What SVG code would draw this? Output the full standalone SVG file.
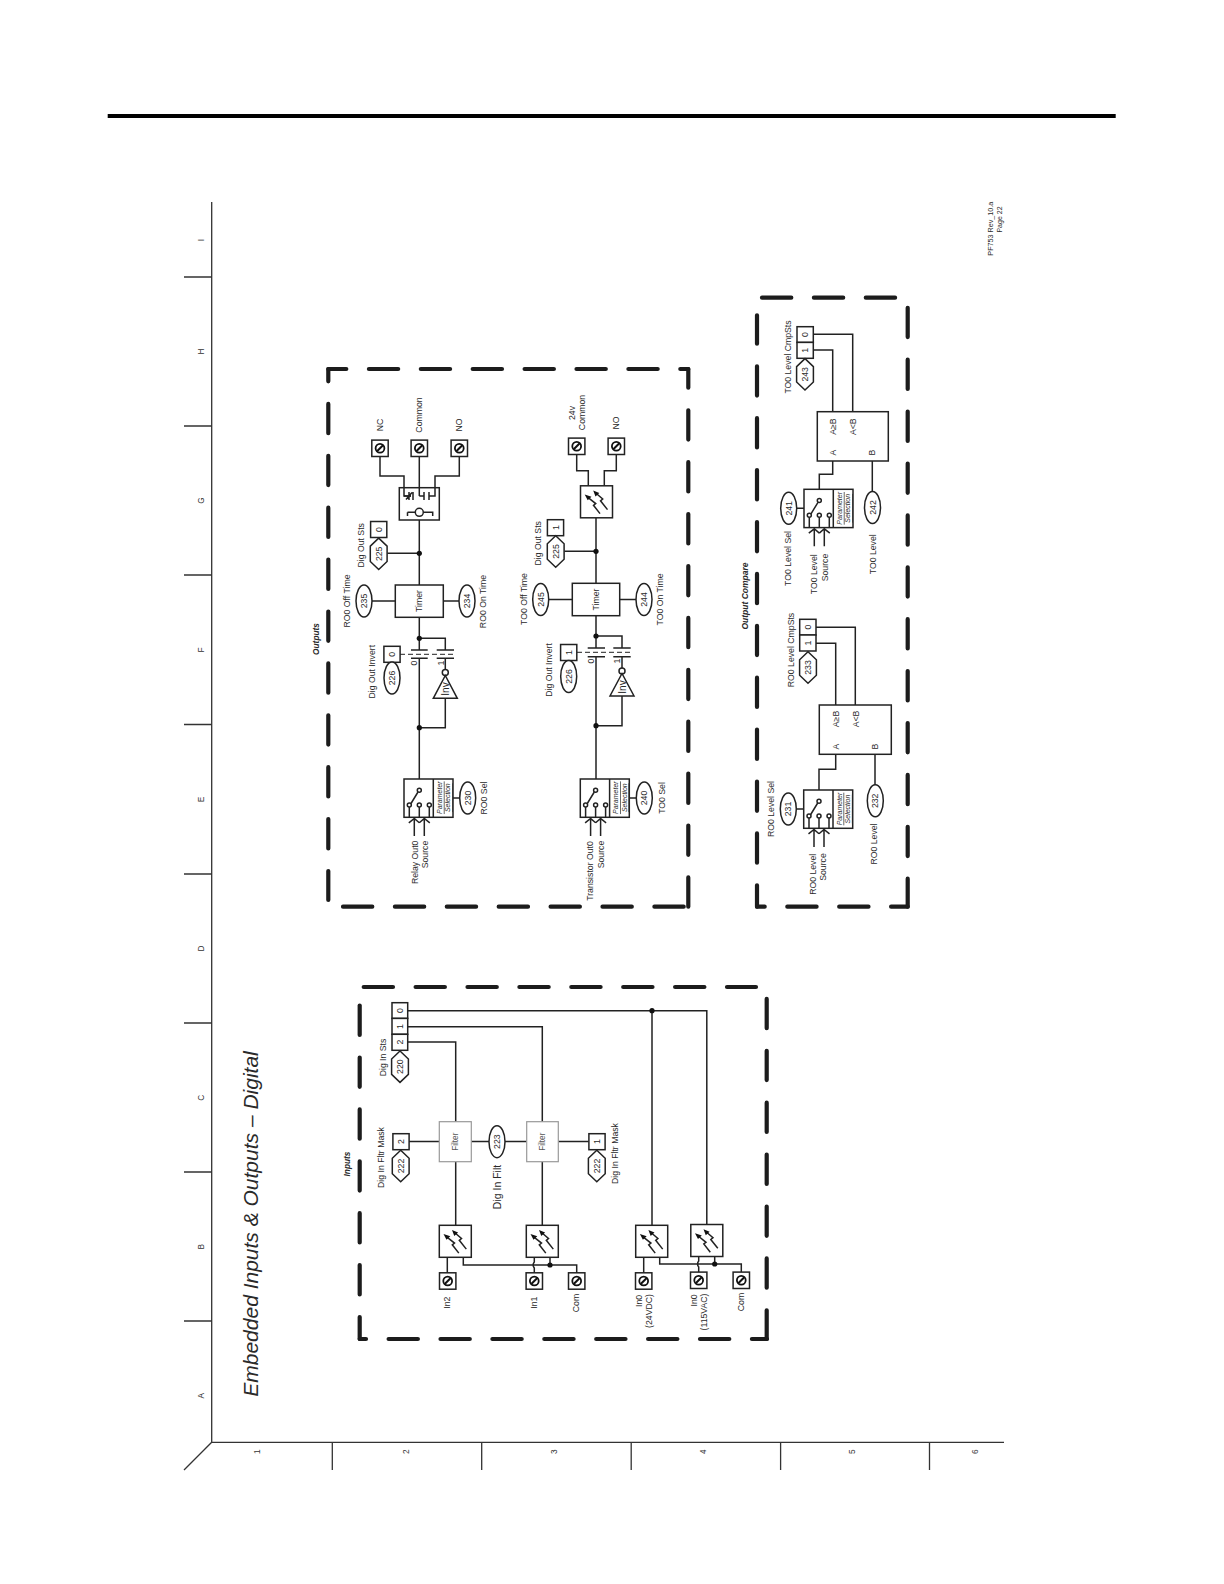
<svg xmlns="http://www.w3.org/2000/svg" width="1224" height="1584" viewBox="0 0 1224 1584">
<style>
text{font-family:"Liberation Sans",Arial,sans-serif;font-size:8.7px;fill:#2a2a2a;text-anchor:middle;dominant-baseline:central}
.w{fill:none;stroke:#222;stroke-width:1.5}
.b{fill:#fff;stroke:#222;stroke-width:1.5}
.f{fill:#fff;stroke:#999;stroke-width:1.2}
.d{fill:none;stroke:#1c1c1c;stroke-width:4.2;stroke-linecap:round;stroke-dasharray:29.3 22.6}
.a{fill:none;stroke:#333;stroke-width:1.3}
.dot{fill:#111}
.ps{font-size:7px;font-style:italic;text-decoration:underline}
.bi{font-weight:bold;font-style:italic;font-size:8.3px}
.l{font-size:8.3px;fill:#333}
.fl{font-size:8.2px;fill:#555}
.inv{font-size:10px}
</style>
<defs>
<g id="term"><rect x="-8.2" y="-8.2" width="16.4" height="16.4" class="b"/><circle r="4.4" fill="#fff" stroke="#111" stroke-width="1.8"/><path d="M-3 3L3-3" stroke="#111" stroke-width="2"/></g>
<g id="opto"><rect x="-16" y="-16" width="32" height="32" class="b"/>
<path class="w" d="M3.5 11.8L-3 3.5L-.8 1.8L-8-4M11 7.8L4-1L6.2-2.8L-.5-8.5"/>
<path class="dot" d="M-11.8-7.2L-5-5L-8.8-1.5ZM-3.3-11.2L2.8-8.8L-1-5.2Z"/></g>
<g id="sw"><rect width="49" height="38.3" class="b"/><path class="w" d="M29.3 0V38.3M5.3 28V38.3M15.3 28V38.3M25.3 28V38.3M14 13L7 24.5"/>
<circle cx="5.3" cy="26" r="2" class="b"/><circle cx="15.3" cy="26" r="2" class="b"/><circle cx="25.3" cy="26" r="2" class="b"/><circle cx="15.3" cy="11.3" r="2" class="b"/>
<path class="w" d="M10.3 39.5V57M4.8 43.8L10.3 39.5L15.3 43.8M20.3 39.5V57M15.3 43.8L20.3 39.5L25.8 43.8"/></g>
<polygon id="hex" class="b" points="0,-15.7 8.4,-7.7 8.4,7.7 0,15.7 -8.4,7.7 -8.4,-7.7"/>
<ellipse id="ov" class="b" rx="8" ry="16"/>
<rect id="sq" class="b" x="-8.1" y="-8" width="16.2" height="16"/>
</defs>

<g id="page-frame">
<rect x="107.7" y="114" width="1008" height="4" fill="#000"/>
<path class="a" d="M211.7 202V1442.3H1004M211.7 1442.3L184 1470M184 277H211.7M184 426H211.7M184 575H211.7M184 724.5H211.7M184 874H211.7M184 1023H211.7M184 1172H211.7M184 1321H211.7M332.3 1442.3V1470M481.7 1442.3V1470M631.2 1442.3V1470M780.6 1442.3V1470M929.5 1442.3V1470"/>
<text class="l" transform="translate(201 240) rotate(-90)">I</text>
<text class="l" transform="translate(201 351.5) rotate(-90)">H</text>
<text class="l" transform="translate(201 500.5) rotate(-90)">G</text>
<text class="l" transform="translate(201 650) rotate(-90)">F</text>
<text class="l" transform="translate(201 799.5) rotate(-90)">E</text>
<text class="l" transform="translate(201 948.5) rotate(-90)">D</text>
<text class="l" transform="translate(201 1097.7) rotate(-90)">C</text>
<text class="l" transform="translate(201 1246.7) rotate(-90)">B</text>
<text class="l" transform="translate(201 1395.7) rotate(-90)">A</text>
<text class="l" transform="translate(256.8 1451.7) rotate(-90)">1</text>
<text class="l" transform="translate(405.7 1451.7) rotate(-90)">2</text>
<text class="l" transform="translate(554 1451.7) rotate(-90)">3</text>
<text class="l" transform="translate(703 1451.7) rotate(-90)">4</text>
<text class="l" transform="translate(852.4 1451.7) rotate(-90)">5</text>
<text class="l" transform="translate(974.5 1451.7) rotate(-90)">6</text>
<text transform="translate(250.3 1224) rotate(-90)" style="font-size:21px;font-style:italic">Embedded Inputs &amp; Outputs – Digital</text>
<text transform="translate(990.5 228.7) rotate(-90)" style="font-size:7.2px">PF753 Rev_10.a</text>
<text transform="translate(999.5 219.5) rotate(-90)" style="font-size:7px">Page 22</text>
</g>

<g id="dashed-boxes">
<path class="d" d="M363.7 987H756"/>
<path class="d" d="M359.7 1339V1005.3" stroke-dashoffset="7.3"/>
<path class="d" d="M359.7 1339H767" stroke-dashoffset="23"/>
<path class="d" d="M766.7 1339V998.7" stroke-dashoffset=".6"/>
<path class="d" d="M328.3 369H688.3" stroke-dashoffset="11.3"/>
<path class="d" d="M688.3 369V906.7" stroke-dashoffset="10.6"/>
<path class="d" d="M328.3 369V900" stroke-dashoffset="17"/>
<path class="d" d="M343 906.7H688.3"/>
<path class="d" d="M762 297.7H895.3"/>
<path class="d" d="M757 906.7V315.3" stroke-dashoffset="7.9"/>
<path class="d" d="M757 906.7H907.7" stroke-dashoffset="21.6"/>
<path class="d" d="M907.7 906.7V307" stroke-dashoffset="1.3"/>
<text class="bi" transform="translate(347.3 1164) rotate(-90)">Inputs</text>
<text class="bi" transform="translate(316 639) rotate(-90)">Outputs</text>
<text class="bi" transform="translate(745 596) rotate(-90)" style="font-size:8.5px">Output Compare</text>
</g>

<g id="connectors">
<path class="w" d="M407.7 1010.7H706.8V1224.3M652 1010.7V1225.3M407.7 1026.7H542.3V1121.7M407.7 1042H455.7V1121.7"/>
<path class="w" d="M409 1141.5H439.3M471.3 1141.5H489M505 1141.5H526.7M558.3 1141.5H588.7M455.7 1161.7V1225.3M542.3 1161.7V1225.3"/>
<path class="w" d="M447.3 1257.3V1273M463.3 1257.3V1265H576.7V1273M534.3 1257.3V1262q-2.4 3 0 6V1273M550 1257.3V1265"/>
<path class="w" d="M643.7 1257.3V1273M659.7 1257.3V1264H741.3V1272M698.7 1256.7V1261q-2.4 3 0 6V1272M714.7 1256.7V1264"/>
<circle class="dot" cx="652" cy="1010.7" r="2.6"/><circle class="dot" cx="550" cy="1265" r="2.6"/><circle class="dot" cx="714.7" cy="1264" r="2.6"/>
<path class="w" d="M380 456.7V476H404V496H411M419.3 456.7V496M459.3 456.7V476H435V496H429"/>
<path class="w" d="M419.3 520V585M387.3 553.3H419.3M372 601H395.3M443.3 601H459M419.3 617.3V650M419.3 638.3H445.3V650M445.3 658.3V670M445.3 698.3V727.7H419.3M419.3 658.3V788M452.7 798H459.7"/>
<path class="w" stroke-dasharray="5 3" style="stroke-width:1" d="M400 654.3H455"/>
<path class="w" d="M411 650H427.7M411 658.3H427.7M436.7 650H454M436.7 658.3H454"/>
<circle class="dot" cx="419.3" cy="553.3" r="2.6"/><circle class="dot" cx="419.3" cy="638.3" r="2.6"/><circle class="dot" cx="419.3" cy="727.7" r="2.6"/>
<path class="w" d="M576.7 454.5V470.7H588.3V486M616.3 454.5V470.7H604.3V486M596 517.7V583.3M564.3 551.3H596M548.7 599.5H572.3M619.7 599.5H636M596 615.7V648M596 636H622V648M622 656.7V668M622 696V725.7H596M596 656.7V788M629.3 798H636.3"/>
<path class="w" stroke-dasharray="5 3" style="stroke-width:1" d="M577 652.3H631"/>
<path class="w" d="M587.7 648H605M587.7 656.7H605M613.3 648H630.7M613.3 656.7H630.7"/>
<circle class="dot" cx="596" cy="551.3" r="2.6"/><circle class="dot" cx="596" cy="636" r="2.6"/><circle class="dot" cx="596" cy="725.7" r="2.6"/>
<path class="w" d="M813.3 334.3H852.7V411.7M813.3 350H832.7V411.7M832.7 461V474.3H819.3V498.7M872.3 461V491.7M796.7 508.3H804"/>
<path class="w" d="M816 627.3H855.3V705M816 643.3H835.7V705M835.7 754.3V769.3H819V799.3M875 754.3V785M796.3 809H803.7"/>
</g>

<g id="inputs-nodes">
<g id="dig-in-sts"><rect class="b" x="392" y="1002.7" width="15.7" height="15.7"/><rect class="b" x="392" y="1018.4" width="15.7" height="15.9"/><rect class="b" x="392" y="1034.3" width="15.7" height="16"/>
<text transform="translate(399.7 1010.7) rotate(-90)">0</text><text transform="translate(399.7 1026.7) rotate(-90)">1</text><text transform="translate(399.7 1042) rotate(-90)">2</text>
<use href="#hex" x="400" y="1066.7"/><text transform="translate(400 1066.7) rotate(-90)">220</text>
<text transform="translate(382.7 1057.5) rotate(-90)">Dig In Sts</text></g>
<g id="filter-2"><rect class="f" x="439.3" y="1121.7" width="32" height="40"/><text class="fl" transform="translate(455.3 1141.7) rotate(-90)">Filter</text></g>
<g id="filter-1"><rect class="f" x="526.7" y="1121.7" width="31.6" height="40"/><text class="fl" transform="translate(542.5 1141.7) rotate(-90)">Filter</text></g>
<g id="dig-in-filt"><use href="#ov" x="497" y="1141.7"/><text transform="translate(497 1141.7) rotate(-90)">223</text><text transform="translate(496.7 1187) rotate(-90)" style="font-size:10.5px">Dig In Filt</text></g>
<g id="mask-2"><use href="#sq" x="401" y="1141.7"/><text transform="translate(401 1141.7) rotate(-90)">2</text><use href="#hex" x="400.7" y="1166"/><text transform="translate(400.7 1166) rotate(-90)">222</text><text transform="translate(381 1157.5) rotate(-90)">Dig In Fltr Mask</text></g>
<g id="mask-1"><use href="#sq" x="597" y="1141.7"/><text transform="translate(597 1141.7) rotate(-90)">1</text><use href="#hex" x="596.8" y="1166"/><text transform="translate(596.8 1166) rotate(-90)">222</text><text transform="translate(615 1153.5) rotate(-90)">Dig In Fltr Mask</text></g>
<use id="opto-in2" href="#opto" x="455.3" y="1241.3"/>
<use id="opto-in1" href="#opto" x="542.3" y="1241.3"/>
<use id="opto-in0-dc" href="#opto" x="651.7" y="1241.3"/>
<use id="opto-in0-ac" href="#opto" x="706.8" y="1240.5"/>
<g id="term-in2"><use href="#term" x="447.7" y="1281"/><text transform="translate(447.3 1302.7) rotate(-90)">In2</text></g>
<g id="term-in1"><use href="#term" x="534.3" y="1281"/><text transform="translate(534.3 1302.7) rotate(-90)">In1</text></g>
<g id="term-com1"><use href="#term" x="576.7" y="1281"/><text transform="translate(576 1303) rotate(-90)">Com</text></g>
<g id="term-in0-dc"><use href="#term" x="643.7" y="1281"/><text transform="translate(639.3 1301) rotate(-90)">In0</text><text transform="translate(649 1311) rotate(-90)">(24VDC)</text></g>
<g id="term-in0-ac"><use href="#term" x="698.7" y="1280.3"/><text transform="translate(694 1300.5) rotate(-90)">In0</text><text transform="translate(704.3 1312) rotate(-90)">(115VAC)</text></g>
<g id="term-com2"><use href="#term" x="741.3" y="1280.3"/><text transform="translate(741.3 1302) rotate(-90)">Com</text></g>
</g>

<g id="relay-nodes">
<g id="term-nc"><use href="#term" x="380" y="448.3"/><text transform="translate(379.7 425) rotate(-90)">NC</text></g>
<g id="term-common"><use href="#term" x="419.3" y="448.3"/><text transform="translate(419 415) rotate(-90)">Common</text></g>
<g id="term-no"><use href="#term" x="459.3" y="448.3"/><text transform="translate(459 425) rotate(-90)">NO</text></g>
<g id="relay"><rect class="b" style="fill:none" x="399.3" y="487.7" width="40" height="32.3"/>
<path class="w" d="M404 496H411M409 492V500M413 492V500M406 499.5L412 492.5M419.3 496H424M424 492V500M429 492V500M407.5 512.3H415.3M407.5 512.3V516M423.3 512.3H432.7V516"/>
<circle class="b" cx="419.3" cy="512.3" r="4"/></g>
<g id="dig-out-sts-0"><use href="#sq" x="378.7" y="529.5"/><text transform="translate(378.7 529.5) rotate(-90)">0</text><use href="#hex" x="378.7" y="553.8"/><text transform="translate(378.7 553.8) rotate(-90)">225</text><text transform="translate(361.3 545.3) rotate(-90)">Dig Out Sts</text></g>
<g id="timer-ro"><rect class="b" x="395.3" y="585" width="48" height="32.3"/><text transform="translate(419.3 601) rotate(-90)">Timer</text></g>
<g id="ro-off"><use href="#ov" x="364" y="601"/><text transform="translate(364 601) rotate(-90)">235</text><text transform="translate(347.3 601) rotate(-90)">RO0 Off Time</text></g>
<g id="ro-on"><use href="#ov" x="467" y="601"/><text transform="translate(467 601) rotate(-90)">234</text><text transform="translate(483.3 601.6) rotate(-90)">RO0 On Time</text></g>
<g id="invert-ro"><use href="#sq" x="392" y="654.3"/><text transform="translate(392 654.3) rotate(-90)">0</text><use href="#ov" x="392" y="678"/><text transform="translate(392 678) rotate(-90)">226</text><text transform="translate(372.3 671.7) rotate(-90)">Dig Out Invert</text>
<text transform="translate(414.3 663) rotate(-90)">0</text><text transform="translate(440.7 663) rotate(-90)">1</text></g>
<g id="inv-ro"><circle class="b" cx="445.3" cy="672.5" r="3"/><polygon class="b" points="445.3,675.5 457.3,698.3 433.3,698.3"/><text class="inv" transform="translate(445.3 689) rotate(-90)">Inv</text></g>
<g id="sel-ro" transform="translate(404 779)"><use href="#sw"/><text class="ps" transform="translate(35.3 18.7) rotate(-90)">Parameter</text><text class="ps" transform="translate(43.7 18.7) rotate(-90)">Selection</text></g>
<g id="ro-sel"><use href="#ov" x="467.7" y="798"/><text transform="translate(467.7 798) rotate(-90)">230</text><text transform="translate(484 798) rotate(-90)">RO0 Sel</text></g>
<g id="relay-src"><text transform="translate(415 862.3) rotate(-90)">Relay Out0</text><text transform="translate(425 854.5) rotate(-90)">Source</text></g>
</g>

<g id="transistor-nodes">
<g id="term-24v"><use href="#term" x="576.7" y="446.3"/><text transform="translate(571.7 413) rotate(-90)">24v</text><text transform="translate(581.7 412.5) rotate(-90)">Common</text></g>
<g id="term-no2"><use href="#term" x="616.3" y="446.3"/><text transform="translate(615.7 423) rotate(-90)">NO</text></g>
<use id="opto-to" href="#opto" x="596.5" y="501.8"/>
<g id="dig-out-sts-1"><use href="#sq" x="555.5" y="527.7"/><text transform="translate(555.5 527.7) rotate(-90)">1</text><use href="#hex" x="555.7" y="551.5"/><text transform="translate(555.7 551.5) rotate(-90)">225</text><text transform="translate(538.3 543.3) rotate(-90)">Dig Out Sts</text></g>
<g id="timer-to"><rect class="b" x="572.3" y="583.3" width="47.4" height="32.4"/><text transform="translate(596 599.5) rotate(-90)">Timer</text></g>
<g id="to-off"><use href="#ov" x="540.7" y="599.5"/><text transform="translate(540.7 599.5) rotate(-90)">245</text><text transform="translate(524 599) rotate(-90)">TO0 Off Time</text></g>
<g id="to-on"><use href="#ov" x="644" y="599.5"/><text transform="translate(644 599.5) rotate(-90)">244</text><text transform="translate(660 599.5) rotate(-90)">TO0 On Time</text></g>
<g id="invert-to"><use href="#sq" x="568.7" y="652.5"/><text transform="translate(568.7 652.5) rotate(-90)">1</text><use href="#ov" x="568.7" y="676.5"/><text transform="translate(568.7 676.5) rotate(-90)">226</text><text transform="translate(549.3 670) rotate(-90)">Dig Out Invert</text>
<text transform="translate(590.7 661) rotate(-90)">0</text><text transform="translate(616.7 661) rotate(-90)">1</text></g>
<g id="inv-to"><circle class="b" cx="622" cy="671" r="3"/><polygon class="b" points="622,673.5 634,696 610,696"/><text class="inv" transform="translate(622 687) rotate(-90)">Inv</text></g>
<g id="sel-to" transform="translate(580.3 779)"><use href="#sw"/><text class="ps" transform="translate(35.3 18.7) rotate(-90)">Parameter</text><text class="ps" transform="translate(43.7 18.7) rotate(-90)">Selection</text></g>
<g id="to-sel"><use href="#ov" x="644.3" y="798"/><text transform="translate(644.3 798) rotate(-90)">240</text><text transform="translate(662.3 798) rotate(-90)">TO0 Sel</text></g>
<g id="to-src"><text transform="translate(590 871) rotate(-90)">Transistor Out0</text><text transform="translate(601 854.5) rotate(-90)">Source</text></g>
</g>

<g id="compare-to">
<g id="cmpsts-to"><rect class="b" x="797" y="326.7" width="16.3" height="15.7"/><rect class="b" x="797" y="342.4" width="16.3" height="15.9"/><text transform="translate(805 334.5) rotate(-90)">0</text><text transform="translate(805 350.3) rotate(-90)">1</text>
<use href="#hex" x="805" y="374.3"/><text transform="translate(805 374.3) rotate(-90)">243</text><text transform="translate(788.3 357) rotate(-90)">TO0 Level CmpSts</text></g>
<g id="cmp-to"><rect class="b" x="817.3" y="411.7" width="71" height="49.3"/><text transform="translate(833.3 426.7) rotate(-90)">A≥B</text><text transform="translate(852.7 426.7) rotate(-90)">A&lt;B</text><text transform="translate(832.7 452.7) rotate(-90)">A</text><text transform="translate(872.3 452.7) rotate(-90)">B</text></g>
<g id="sel-cmp-to" transform="translate(804 489.3)"><use href="#sw"/><text class="ps" transform="translate(35.3 19) rotate(-90)">Parameter</text><text class="ps" transform="translate(43.7 19) rotate(-90)">Selection</text></g>
<g id="to-level-sel"><use href="#ov" x="788.7" y="508.3"/><text transform="translate(788.7 508.3) rotate(-90)">241</text><text transform="translate(788.3 558.5) rotate(-90)">TO0 Level Sel</text></g>
<g id="to-level"><use href="#ov" x="872.5" y="507.5"/><text transform="translate(872.5 507.5) rotate(-90)">242</text><text transform="translate(873.3 554.3) rotate(-90)">TO0 Level</text></g>
<g id="to-level-src"><text transform="translate(814.3 574.3) rotate(-90)">TO0 Level</text><text transform="translate(825 567.5) rotate(-90)">Source</text></g>
</g>

<g id="compare-ro">
<g id="cmpsts-ro"><rect class="b" x="799.7" y="619.3" width="16.3" height="15.7"/><rect class="b" x="799.7" y="635" width="16.3" height="16"/><text transform="translate(808 627) rotate(-90)">0</text><text transform="translate(808 643) rotate(-90)">1</text>
<use href="#hex" x="808" y="667.5"/><text transform="translate(808 667.5) rotate(-90)">233</text><text transform="translate(790.7 650) rotate(-90)">RO0 Level CmpSts</text></g>
<g id="cmp-ro"><rect class="b" x="819.3" y="705" width="72" height="49.3"/><text transform="translate(836 719) rotate(-90)">A≥B</text><text transform="translate(855.7 719) rotate(-90)">A&lt;B</text><text transform="translate(835.7 746.7) rotate(-90)">A</text><text transform="translate(875 746.7) rotate(-90)">B</text></g>
<g id="sel-cmp-ro" transform="translate(803.7 790)"><use href="#sw"/><text class="ps" transform="translate(35.3 19) rotate(-90)">Parameter</text><text class="ps" transform="translate(43.7 19) rotate(-90)">Selection</text></g>
<g id="ro-level-sel"><use href="#ov" x="788.3" y="809"/><text transform="translate(788.3 809) rotate(-90)">231</text><text transform="translate(771 809) rotate(-90)">RO0 Level Sel</text></g>
<g id="ro-level"><use href="#ov" x="875.3" y="800.8"/><text transform="translate(875.3 800.8) rotate(-90)">232</text><text transform="translate(874.3 844) rotate(-90)">RO0 Level</text></g>
<g id="ro-level-src"><text transform="translate(812.7 874.3) rotate(-90)">RO0 Level</text><text transform="translate(823.3 867) rotate(-90)">Source</text></g>
</g>
</svg>
